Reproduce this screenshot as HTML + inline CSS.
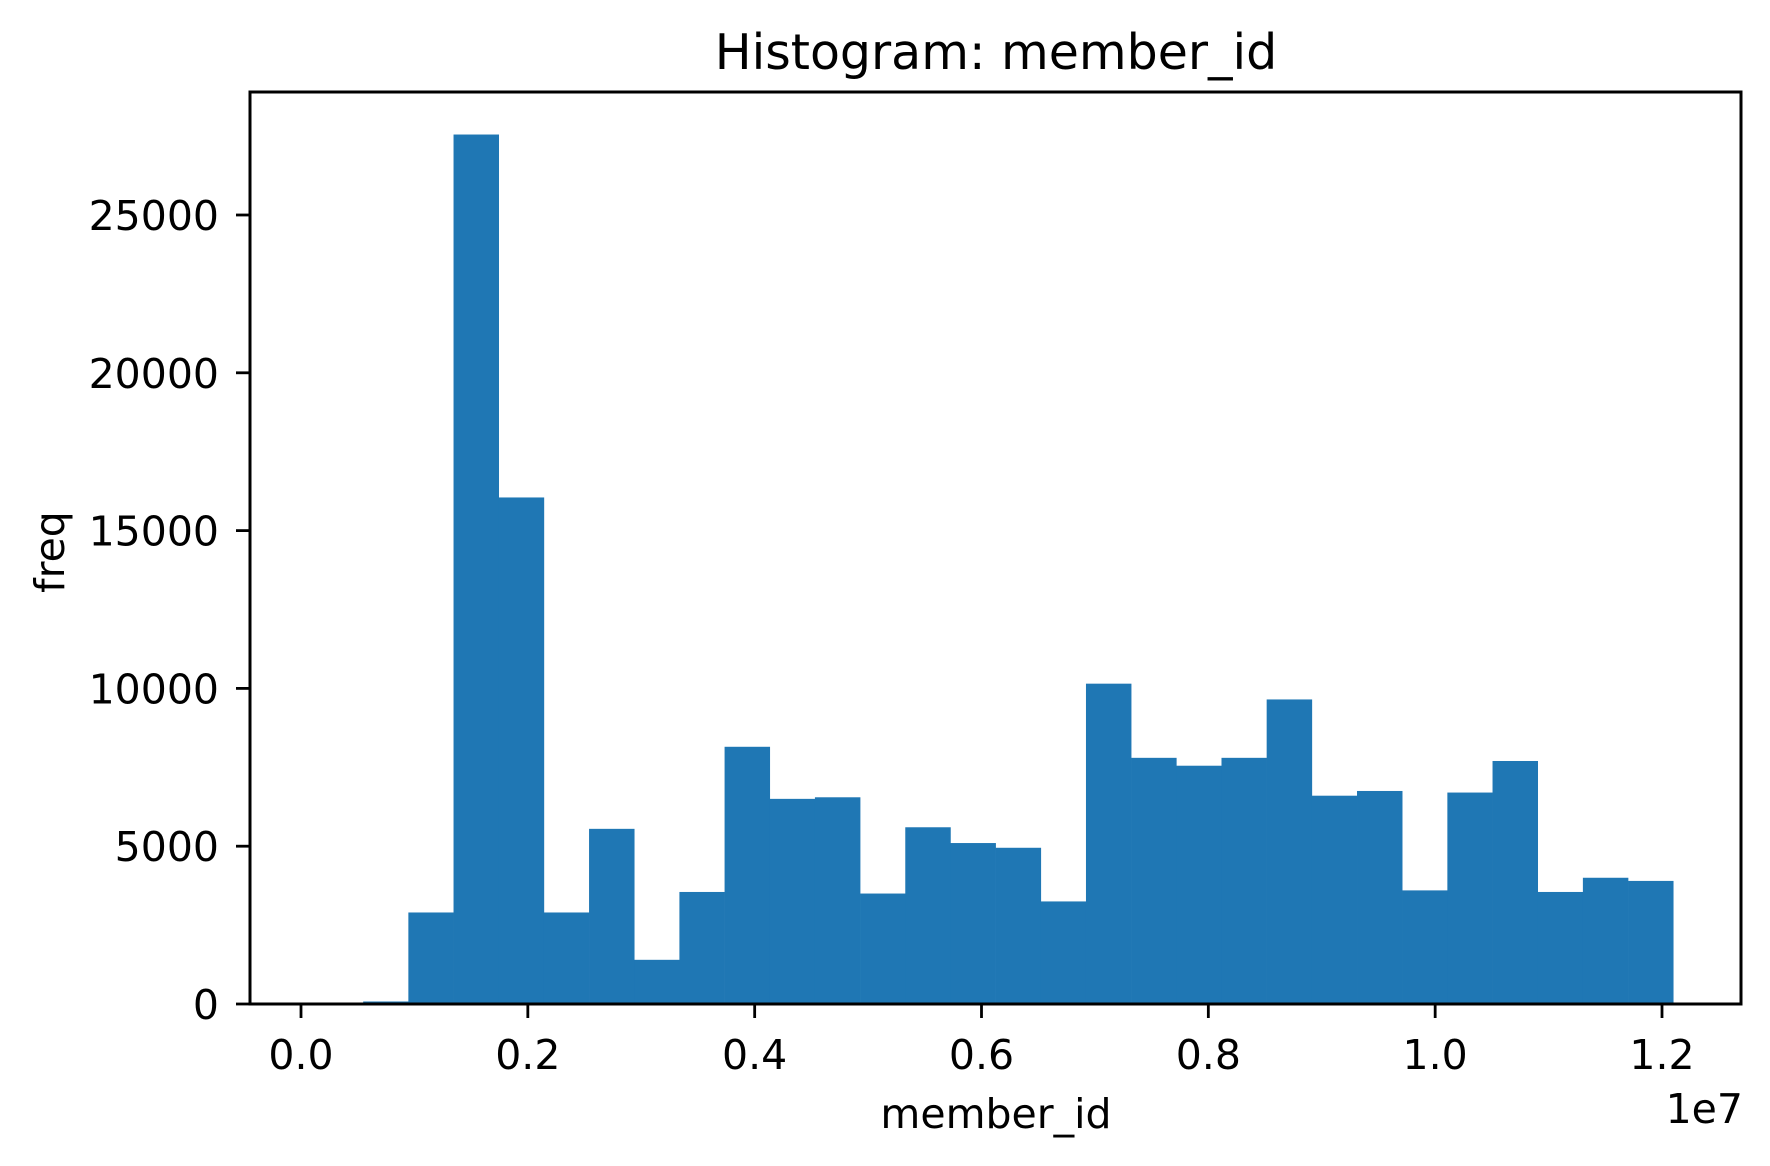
<!DOCTYPE html>
<html><head><meta charset="utf-8"><style>
html,body{margin:0;padding:0;background:#fff;}
svg{display:block;}
text{font-family:"DejaVu Sans","Liberation Sans",sans-serif;fill:#000;}
</style></head><body>
<svg id="chart" width="1770" height="1166" viewBox="0 0 1770 1166">
<rect x="0" y="0" width="1770" height="1166" fill="#fff"/>
<g id="bars"></g>
<g id="xticks"></g>
<g id="yticks"></g>
<rect x="250" y="92" width="1491" height="912" fill="none" stroke="#000" stroke-width="3"/>
<text x="996" y="69" font-size="49" text-anchor="middle">Histogram: member_id</text>
<text x="996" y="1128" font-size="41" text-anchor="middle">member_id</text>
<text transform="translate(64,552) rotate(-90)" font-size="41" text-anchor="middle">freq</text>
<text x="1743" y="1123" font-size="41" text-anchor="end">1e7</text>
</svg>
<script>
const binStart = 150000;
const binWidth = 398300;
const counts = [0, 80, 2900, 27550, 16050, 2900, 5550, 1400, 3550, 8150, 6500, 6550, 3500, 5600, 5100, 4950, 3250, 10150, 7800, 7550, 7800, 9650, 6600, 6750, 3600, 6700, 7700, 3550, 4000, 3900];
const xTickValues = [0, 2000000, 4000000, 6000000, 8000000, 10000000, 12000000];
const xTickLabels = ["0.0", "0.2", "0.4", "0.6", "0.8", "1.0", "1.2"];
const yTickValues = [0, 5000, 10000, 15000, 20000, 25000];
const yTickLabels = ["0", "5000", "10000", "15000", "20000", "25000"];

const NS = "http://www.w3.org/2000/svg";
function xs(v){ return 301 + (v/12000000)*(1662-301); }
function ys(v){ return 1004 - (v/25000)*(1004-215); }

const bars = document.getElementById('bars');
counts.forEach((c,i)=>{
  const x0 = xs(binStart + i*binWidth), x1 = xs(binStart + (i+1)*binWidth);
  const r = document.createElementNS(NS,'rect');
  r.setAttribute('x', x0);
  r.setAttribute('width', x1 - x0 + 0.3);
  r.setAttribute('y', ys(c));
  r.setAttribute('height', ys(0) - ys(c));
  r.setAttribute('fill', '#1f77b4');
  
  
  bars.appendChild(r);
});

const xg = document.getElementById('xticks');
xTickValues.forEach((v,i)=>{
  const x = xs(v);
  const l = document.createElementNS(NS,'line');
  l.setAttribute('x1', x); l.setAttribute('x2', x);
  l.setAttribute('y1', 1004); l.setAttribute('y2', 1018);
  l.setAttribute('stroke', '#000'); l.setAttribute('stroke-width', '2.8');
  
  
  xg.appendChild(l);
  const t = document.createElementNS(NS,'text');
  t.setAttribute('x', x); t.setAttribute('y', 1069);
  t.setAttribute('font-size', '41'); t.setAttribute('text-anchor', 'middle');
  t.textContent = xTickLabels[i];
  
  
  xg.appendChild(t);
});

const yg = document.getElementById('yticks');
yTickValues.forEach((v,i)=>{
  const y = ys(v);
  const l = document.createElementNS(NS,'line');
  l.setAttribute('x1', 236); l.setAttribute('x2', 250);
  l.setAttribute('y1', y); l.setAttribute('y2', y);
  l.setAttribute('stroke', '#000'); l.setAttribute('stroke-width', '2.8');
  
  
  yg.appendChild(l);
  const t = document.createElementNS(NS,'text');
  t.setAttribute('x', 219); t.setAttribute('y', y + 15);
  t.setAttribute('font-size', '41'); t.setAttribute('text-anchor', 'end');
  t.textContent = yTickLabels[i];
  
  
  yg.appendChild(t);
});
</script>
</body></html>
